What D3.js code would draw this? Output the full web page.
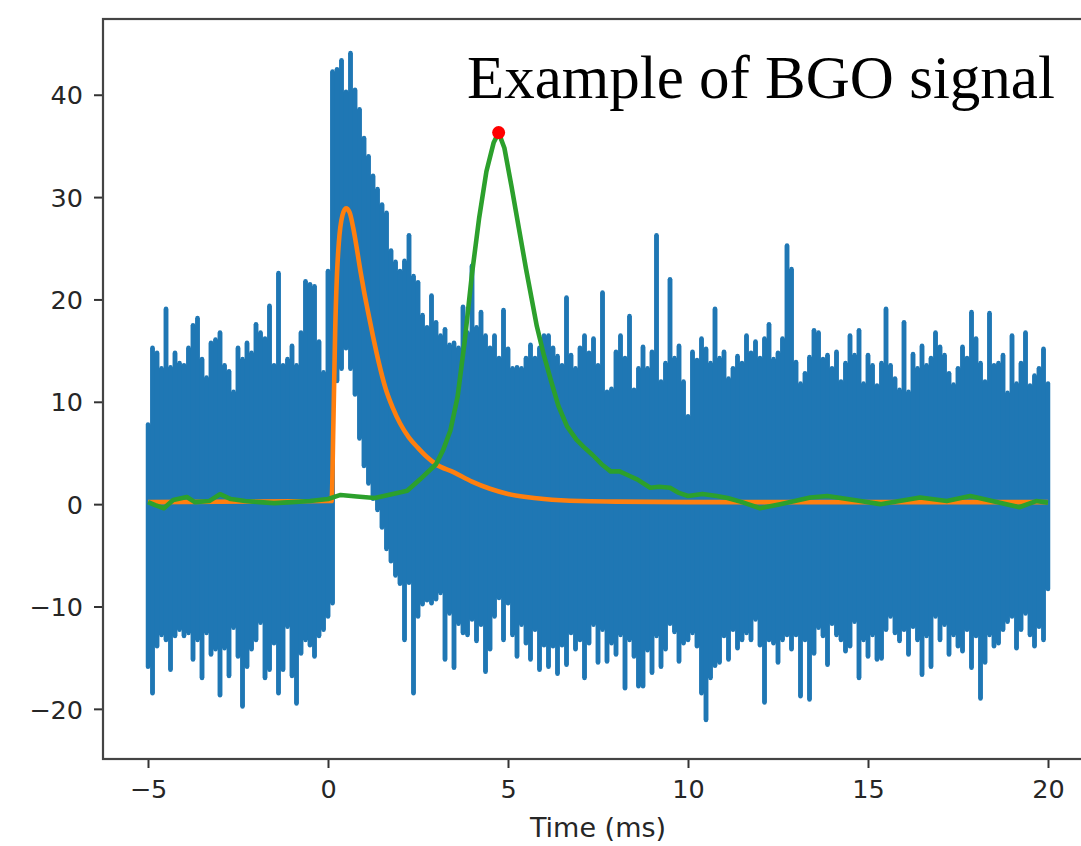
<!DOCTYPE html>
<html>
<head>
<meta charset="utf-8">
<script src="https://cdn.jsdelivr.net/npm/d3@7"></script>
<style>
  html, body { margin: 0; padding: 0; background: #fff; }
  svg { display: block; }
</style>
</head>
<body>
<svg id="chart" width="1081" height="846"></svg>
<script>
// Raw trace: spike tops / bottoms every 0.125 ms from -5 to 20 ms
const sampleStep = 0.125;
const sampleStart = -5;
const signalHigh = [
  8, 15.5, 15, 13.5, 19.3, 13.6, 15, 14,
  13.8, 15.5, 17.7, 18.4, 14.4, 12.6, 16, 16.3,
  17, 13.8, 13.2, 11.2, 15.5, 14.4, 16, 15,
  17.8, 17, 16.4, 19.6, 13.8, 22.8, 13.8, 14.4,
  15.7, 13.8, 17, 22, 21.7, 21.5, 16.1, 13.1,
  23, 42.5, 42.7, 43.6, 40.5, 44.3, 40.7, 38.8,
  36, 34.2, 32.3, 31, 29.5, 28.7, 25, 23.9,
  23, 24, 26.5, 22.5, 21.9, 18.7, 17.5, 20.6,
  18, 16.7, 17.3, 15.8, 16, 15.5, 19.5, 17,
  23.5, 17.5, 19, 16.7, 15.5, 16.7, 14.5, 19.2,
  15.4, 13.5, 13.6, 13.5, 14.5, 15.8, 14.5, 15.5,
  16.7, 16.7, 15.5, 14.7, 13.8, 20.4, 14.8, 13.5,
  15.5, 16.7, 15, 16.4, 13.8, 20.9, 11.2, 11.5,
  15.1, 16.7, 14.5, 18.6, 11.4, 13.5, 15.6, 13.5,
  15.1, 26.5, 12.2, 14, 22.2, 14.5, 15.7, 12.2,
  8.8, 15.1, 14.3, 16.4, 15.4, 14, 19.3, 14.5,
  15.1, 12.5, 13.5, 14.7, 14, 16.7, 15, 16.1,
  14.5, 16.4, 17.8, 14.4, 15, 16.4, 25.5, 23.2,
  14.1, 12, 13, 14.6, 17.2, 17, 14.4, 14.8,
  13.5, 15.1, 12.2, 14, 16.7, 14.8, 17.2, 12,
  14.8, 13.8, 11.8, 14, 19.3, 13.8, 12.5, 11.4,
  18, 11.2, 14.9, 13.5, 15.7, 13.8, 14.5, 17,
  15.6, 14.8, 13, 11.9, 13.5, 15.6, 14.5, 19,
  16.4, 14, 12.2, 18.9, 13.8, 14, 14.8, 11.1,
  16.7, 12, 14, 17, 11.8, 12.8, 13.5, 15.4,
  12
];
const signalLow = [
  -16.1, -18.7, -14.1, -13, -13.5, -16.4, -13.1, -12.5,
  -13.1, -12.8, -15.4, -13.5, -17.2, -12.8, -14.9, -14.4,
  -18.9, -14.3, -17, -12.3, -15.1, -20, -16.1, -14.4,
  -13.5, -11.8, -17.2, -16.4, -13.8, -18.7, -16.4, -12.2,
  -17, -19.7, -14.8, -13.5, -14, -15.1, -13.1, -12.5,
  -11.2, -9.9, 11.8, 13, 15, 13, 10.5, 6.2,
  3.5, 1.8, 0.3, -0.8, -2.5, -4.6, -5.8, -7.2,
  -8, -13.5, -7.9, -18.7, -11.2, -10, -9.6, -9.9,
  -9.5, -8.9, -15.4, -10.9, -16.2, -11.9, -12.8, -13,
  -11.5, -13.6, -12, -16.6, -14.4, -11.2, -9.4, -13.5,
  -9.9, -13, -15.1, -12, -13.8, -15.4, -12.5, -16.4,
  -14, -16.1, -14.1, -16.8, -14, -15.9, -12.8, -14.4,
  -13.5, -17.2, -13.8, -12, -15.7, -12.5, -15.6, -13.8,
  -14.9, -13, -18.2, -13.5, -15.1, -18, -18, -14.5,
  -16.7, -13.1, -16.1, -14.4, -11.9, -12.7, -15.6, -13.8,
  -13.5, -12.8, -14.1, -18.7, -21.3, -17.2, -16, -15.7,
  -13.1, -15.4, -12.5, -14.3, -13.5, -12.8, -13.5, -11.5,
  -14, -19.6, -13.5, -13.8, -15.7, -13.5, -13, -14.4,
  -13, -19, -13.5, -19.3, -14.8, -12.3, -13.1, -15.9,
  -11.9, -13, -13.5, -14.6, -14.1, -11.7, -17.2, -13.5,
  -15.1, -13, -15.4, -15.3, -12.5, -11.2, -12.8, -13.6,
  -12.5, -14.9, -12.2, -13.5, -16.9, -13.1, -16.1, -11.2,
  -13.5, -12, -14.9, -13, -14.1, -14.6, -12.5, -16.2,
  -13.1, -19.2, -15.7, -13, -14.1, -13.8, -12.5, -11.7,
  -11.2, -14.3, -12.5, -10.9, -13, -14.1, -12.2, -13.5,
  -8.5
];

// Fitted pulse (orange)
const fitTime = [-5, 0.1, 0.15, 0.2, 0.25, 0.3, 0.4, 0.5, 0.6, 0.7, 0.8, 0.9, 1.0, 1.1, 1.25, 1.4,
  1.6, 1.8, 2.0, 2.25, 2.5, 2.75, 3.0, 3.5, 4.0, 4.5, 5.0, 5.5, 6.0, 7.0, 8.0, 10.0, 20];
const fitValue = [0.2, 0.3, 8, 17, 22.5, 25.5, 28.2, 28.9, 28.5, 27, 25, 22.8, 20.8, 19, 16.4, 14,
  11.3, 9.4, 7.9, 6.5, 5.5, 4.6, 3.9, 3.1, 2.2, 1.5, 1.0, 0.7, 0.5, 0.3, 0.25, 0.2, 0.2];

// Shaped signal (green)
const shapedTime = [-5, -4.8, -4.56, -4.3, -3.92, -3.7, -3.3, -3.0, -2.7, -2.3, -1.9, -1.5, -1.0, -0.5,
  0.0, 0.35, 0.8, 1.3, 1.8, 2.2, 2.55, 3.0, 3.2, 3.4, 3.6, 3.8, 4.0, 4.2, 4.4, 4.6, 4.74, 4.9,
  5.1, 5.3, 5.5, 5.8, 6.0, 6.2, 6.4, 6.64, 6.9, 7.1, 7.35, 7.6, 7.85, 8.1, 8.35, 8.6, 8.95, 9.2,
  9.5, 9.75, 10.0, 10.4, 10.8, 11.1, 11.5, 12.0, 12.56, 13.4, 13.87, 14.79, 15.34, 16.45, 17.19,
  17.84, 18.45, 19.2, 19.67, 20.0];
const shapedValue = [0.2, -0.1, -0.4, 0.4, 0.7, 0.2, 0.3, 0.97, 0.5, 0.3, 0.2, 0.1, 0.2, 0.3,
  0.5, 0.9, 0.75, 0.6, 1.0, 1.3, 2.4, 3.9, 5.3, 7.2, 10.5, 16, 22.5, 28, 32.5, 35.3, 36.3, 34.8,
  31, 27, 23, 17.4, 14.5, 12, 9.6, 7.6, 6.3, 5.6, 4.8, 3.9, 3.2, 3.2, 2.8, 2.4, 1.6, 1.7,
  1.6, 1.1, 0.8, 1.0, 0.8, 0.6, 0.2, -0.4, 0.0, 0.65, 0.8, 0.3, 0.0, 0.65, 0.3,
  0.8, 0.3, -0.3, 0.3, 0.15];

// Peak marker (red)
const peakTime = 4.74;
const peakValue = 36.3;

const xTicks = [-5, 0, 5, 10, 15, 20];
const yTicks = [-20, -10, 0, 10, 20, 30, 40];
const xLabel = "Time (ms)";
const titleText = "Example of BGO signal";

// Layout
const svg = d3.select("#chart");
const plotLeft = 103, plotTop = 19, plotRight = 1093, plotBottom = 759;

const x = d3.scaleLinear().domain([-6.25, 21.25]).range([plotLeft, plotRight]);
const y = d3.scaleLinear().domain([-24.9, 47.4]).range([plotBottom, plotTop]);

svg.append("rect").attr("width", 1081).attr("height", 846).attr("fill", "#fff");

svg.append("defs").append("clipPath").attr("id", "plot-clip")
  .append("rect")
  .attr("x", plotLeft).attr("y", plotTop)
  .attr("width", plotRight - plotLeft).attr("height", plotBottom - plotTop);

const plot = svg.append("g").attr("clip-path", "url(#plot-clip)");

// raw trace
const samples = signalHigh.map((hi, i) => ({
  t: sampleStart + i * sampleStep,
  hi: hi,
  lo: signalLow[i]
}));
const colWidth = x(sampleStep) - x(0);
const blue = "#1f77b4";

// solid body: stepped band between spike bottoms and tops (inset so the round caps show)
plot.append("path")
  .datum(samples)
  .attr("d", d3.area()
    .curve(d3.curveStep)
    .x(d => x(d.t))
    .y0(d => y(d.lo) - colWidth / 2)
    .y1(d => y(d.hi) + colWidth / 2))
  .attr("fill", blue);

// spikes with rounded ends
plot.append("g")
  .selectAll("line")
  .data(samples)
  .enter()
  .append("line")
  .attr("x1", d => x(d.t))
  .attr("x2", d => x(d.t))
  .attr("y1", d => y(d.hi) + colWidth / 2)
  .attr("y2", d => y(d.lo) - colWidth / 2)
  .attr("stroke", blue)
  .attr("stroke-width", colWidth)
  .attr("stroke-linecap", "round");

const line = d3.line()
  .x(d => x(d[0]))
  .y(d => y(d[1]));

plot.append("path")
  .datum(fitTime.map((t, i) => [t, fitValue[i]]))
  .attr("d", line.curve(d3.curveMonotoneX))
  .attr("fill", "none")
  .attr("stroke", "#ff7f0e")
  .attr("stroke-width", 4.6)
  .attr("stroke-linejoin", "round");

plot.append("path")
  .datum(shapedTime.map((t, i) => [t, shapedValue[i]]))
  .attr("d", line.curve(d3.curveLinear))
  .attr("fill", "none")
  .attr("stroke", "#2ca02c")
  .attr("stroke-width", 4.6)
  .attr("stroke-linejoin", "round");

plot.append("circle")
  .attr("cx", x(peakTime))
  .attr("cy", y(peakValue))
  .attr("r", 6.5)
  .attr("fill", "#ff0000");

// Axes
const fmt = d => String(d).replace("-", "\u2212");

const xAxis = svg.append("g")
  .attr("transform", `translate(0,${plotBottom})`)
  .call(d3.axisBottom(x).tickValues(xTicks).tickSize(9).tickPadding(12).tickFormat(fmt));

const yAxis = svg.append("g")
  .attr("transform", `translate(${plotLeft},0)`)
  .call(d3.axisLeft(y).tickValues(yTicks).tickSize(9).tickPadding(11).tickFormat(fmt));

[xAxis, yAxis].forEach(ax => {
  ax.select(".domain").remove();
  ax.selectAll(".tick line").attr("stroke", "#333").attr("stroke-width", 2);
  ax.selectAll(".tick text")
    .attr("fill", "#262626")
    .style("font-family", "'DejaVu Sans', sans-serif")
    .style("font-size", "25.5px");
});
yAxis.selectAll(".tick text").attr("dy", "0.36em");

// Frame (right spine falls outside the picture)
svg.append("rect")
  .attr("x", plotLeft).attr("y", plotTop)
  .attr("width", plotRight - plotLeft).attr("height", plotBottom - plotTop)
  .attr("fill", "none")
  .attr("stroke", "#444")
  .attr("stroke-width", 2.2);

svg.append("text")
  .attr("x", (plotLeft + plotRight) / 2)
  .attr("y", 837)
  .attr("text-anchor", "middle")
  .attr("fill", "#262626")
  .style("font-family", "'DejaVu Sans', sans-serif")
  .style("font-size", "27px")
  .text(xLabel);

svg.append("text")
  .attr("x", 467)
  .attr("y", 98)
  .attr("fill", "#000")
  .style("font-family", "'Liberation Serif', 'Times New Roman', serif")
  .style("font-size", "61px")
  .text(titleText);
</script>
</body>
</html>
